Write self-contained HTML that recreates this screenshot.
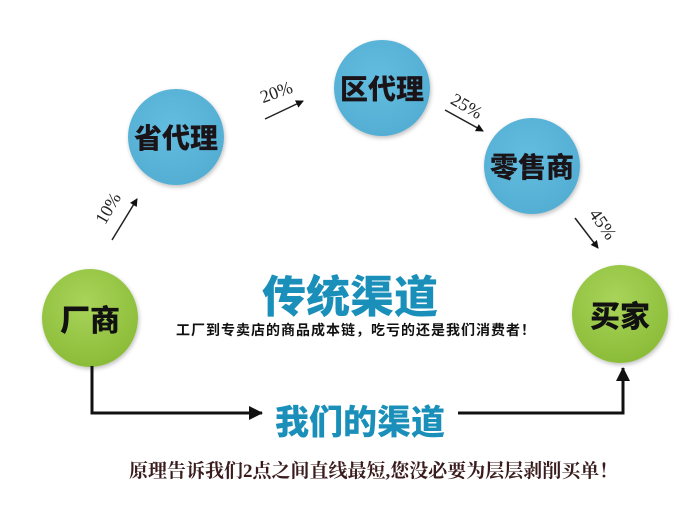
<!DOCTYPE html>
<html><head><meta charset="utf-8"><style>
html,body{margin:0;padding:0;background:#fff;}
body{width:700px;height:506px;position:relative;overflow:hidden;font-family:"Liberation Sans","Noto Sans CJK SC",sans-serif;}
.c{position:absolute;border-radius:50%;display:flex;align-items:center;justify-content:center;font-weight:900;color:#1a1418;box-shadow:1px 2px 4px rgba(0,0,0,0.25);}
.b{background:radial-gradient(circle at 45% 40%,#62bde0,#4fa9cf);font-size:28px;width:96px;height:96px;}
.g{background:radial-gradient(circle at 45% 35%,#a9d45a,#82b52e);font-size:30px;width:96px;height:98px;color:#111;}
.t{position:absolute;white-space:nowrap;}
.p{position:absolute;font-family:"Liberation Serif",serif;font-size:18px;color:#222;}
</style></head><body>
<div class="c b" style="left:128px;top:89px;">省代理</div>
<div class="c b" style="left:334px;top:40px;">区代理</div>
<div class="c b" style="left:484px;top:118px;">零售商</div>
<div class="c g" style="left:42px;top:269px;">厂商</div>
<div class="c g" style="left:572px;top:265px;">买家</div>

<svg width="700" height="506" style="position:absolute;left:0;top:0">
<defs><marker id="a" markerWidth="8" markerHeight="8" refX="7" refY="4" orient="auto" markerUnits="userSpaceOnUse"><path d="M0,0 L8,4 L0,8 z" fill="#111"/></marker>
<marker id="A" markerWidth="14" markerHeight="14" refX="13" refY="7" orient="auto" markerUnits="userSpaceOnUse"><path d="M0,0 L14,7 L0,14 z" fill="#111"/></marker></defs>
<g stroke="#222" stroke-width="1.5" fill="none">
<line x1="112" y1="240" x2="137" y2="199" marker-end="url(#a)"/>
<line x1="265" y1="119" x2="303" y2="101" marker-end="url(#a)"/>
<line x1="445" y1="110" x2="483" y2="131" marker-end="url(#a)"/>
<line x1="575" y1="218" x2="598" y2="248" marker-end="url(#a)"/>
</g>
<g stroke="#111" stroke-width="3" fill="none">
<polyline points="92,366 92,413 262,413" marker-end="url(#A)"/>
<polyline points="458,413 623,413 623,368" marker-end="url(#A)"/>
</g>
</svg>

<div class="p" style="left:92px;top:198px;transform:rotate(-60deg);">10%</div>
<div class="p" style="left:260px;top:82px;transform:rotate(-20deg);">20%</div>
<div class="p" style="left:450px;top:96px;transform:rotate(30deg);">25%</div>
<div class="p" style="left:586px;top:214px;transform:rotate(55deg);">45%</div>

<div class="t" style="left:262px;top:261px;font-size:44px;font-weight:900;color:#1a8fb9;">传统渠道</div>
<div class="t" style="left:176px;top:320px;font-size:14px;letter-spacing:1px;font-weight:bold;color:#111;">工厂到专卖店的商品成本链，吃亏的还是我们消费者！</div>
<div class="t" style="left:275px;top:395px;font-size:34px;font-weight:900;color:#1a8fb9;">我们的渠道</div>
<div class="t" style="left:129px;top:456px;font-size:19px;font-weight:bold;color:#3a1c1c;font-family:'Liberation Serif','Noto Serif CJK SC',serif;">原理告诉我们2点之间直线最短,您没必要为层层剥削买单！</div>
</body></html>
